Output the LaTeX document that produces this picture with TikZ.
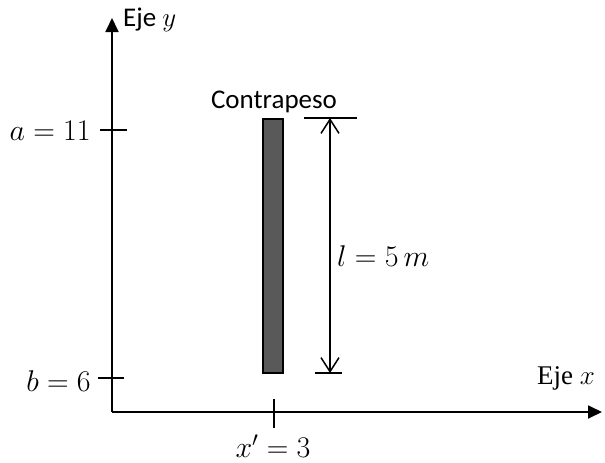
\RequirePackage{fix-cm}
\documentclass[tikz,border=0pt]{standalone}
\usepackage{fontspec}
\setmainfont{Carlito}
\setsansfont{Carlito}
\newfontfamily\timesfont{Liberation Serif}
\usetikzlibrary{arrows.meta}
\tikzset{
  axis/.style={line width=1.8pt,-{Triangle[length=14pt,width=13pt]}},
  tickline/.style={line width=1.3pt},
  dimline/.style={line width=1.5pt,{Straight Barb[length=14pt,width=18pt]}-{Straight Barb[length=14pt,width=18pt]}},
  lbl/.style={inner sep=0pt,font=\fontsize{27}{30}\selectfont},
  serlbl/.style={inner sep=0pt,font=\timesfont\fontsize{27}{30}\selectfont},
  mlbl/.style={inner sep=0pt,font=\fontsize{30}{34}\selectfont},
  rod/.style={draw=black,line width=1.5pt,fill=black!65}
}
\begin{document}
\begin{tikzpicture}[x=1pt,y=-1pt]
\useasboundingbox (0,0) rectangle (605,463);
% axes
\coordinate (O) at (112,412);
\coordinate (ytip) at (112,18);
\coordinate (xtip) at (602,412);
\draw[axis] (O) -- (ytip);
\draw[axis] (O) -- (xtip);
% ticks
\coordinate (ta1) at (100,130); \coordinate (ta2) at (127,130);
\coordinate (tb1) at (98,378); \coordinate (tb2) at (124,378);
\coordinate (tx1) at (274,399); \coordinate (tx2) at (274,428);
\draw[tickline] (ta1) -- (ta2);
\draw[tickline] (tb1) -- (tb2);
\draw[tickline] (tx1) -- (tx2);
% labels
\node[mlbl,anchor=east] (la) at (91,131) {$a=11$};
\node[mlbl,anchor=east] (lb) at (91,381) {$b=6$};
\node[mlbl,anchor=base] (lx) at (273,457) {$x'=3$};
\node[lbl,anchor=base west] (ey) at (123,27) {Eje $y$};
\node[serlbl,anchor=base west] (ex) at (537,384) {Eje $x$};
% rod
\node[rod,minimum width=20pt,minimum height=254pt,inner sep=0pt] (rod) at (273,246) {};
\node[lbl,anchor=base] (cp) at (274,108) {Contrapeso};
% dimension
\coordinate (dt1) at (304,118); \coordinate (dt2) at (357,118);
\coordinate (db1) at (315,373); \coordinate (db2) at (342,373);
\coordinate (dtop) at (330,118); \coordinate (dbot) at (330,373);
\draw[tickline] (dt1) -- (dt2);
\draw[tickline] (db1) -- (db2);
\draw[dimline] (dtop) -- (dbot);
\node[mlbl,anchor=west] (ll) at (337,256) {$l=5\,m$};
\end{tikzpicture}
\end{document}
